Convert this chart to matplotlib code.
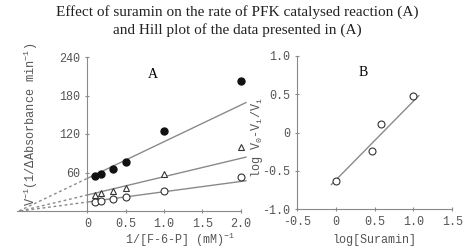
import numpy as np
import matplotlib
matplotlib.use("Agg")
import matplotlib.pyplot as plt

plt.rcParams['mathtext.default'] = 'regular'

# panel A: Lineweaver-Burk data, three suramin levels
inv_s = [0.1, 0.17, 0.33, 0.5, 1.0, 2.0]
inv_v_high = [54, 58, 66, 77, 124, 202]
inv_v_mid = [25, 28, 31, 36, 57, 100]
inv_v_low = [14, 16, 19, 22, 31, 53]
# fitted lines (intercept, slope)
fit_high = (51, 57)
fit_mid = (25, 28.5)
fit_low = (14, 16)

# panel B: Hill plot
log_sur = [0.0, 0.47, 0.58, 0.99]
log_ratio = [-0.64, -0.24, 0.11, 0.48]
hill_fit = (-0.62, 1.03)

mono = 'Liberation Mono'
serif = 'Liberation Serif'
grey = '#555555'
lgrey = '#8a8a8a'

fig = plt.figure(figsize=(4.74, 2.5), dpi=100)
fig.text(0.5, 0.952, "Effect of suramin on the rate of PFK catalysed reaction (A)",
         ha='center', va='center', family=serif, fontsize=11, color='#222222')
fig.text(0.5, 0.88, "and Hill plot of the data presented in (A)",
         ha='center', va='center', family=serif, fontsize=11, color='#222222')

# ---- panel A
ax = fig.add_axes([0.036, 0.156, 0.491, 0.616])
ax.set_xlim(-0.92, 2.12)
ax.set_ylim(0, 240)
for sp in ['top', 'right']:
    ax.spines[sp].set_visible(False)
ax.spines['left'].set_position(('data', 0))
ax.spines['bottom'].set_bounds(-0.92, 2.0)
for sp in ['left', 'bottom']:
    ax.spines[sp].set_color(lgrey)

xs = np.array([0, 2.07])
for (b, m) in [fit_high, fit_mid, fit_low]:
    ax.plot(xs, b + m * xs, color=lgrey, lw=1)
    x0 = -b / m
    xd = np.array([x0, 0])
    ax.plot(xd, b + m * xd, color=lgrey, lw=1, ls=(0, (2, 2)))

ax.plot(inv_s, inv_v_high, 'o', color='#111111', ms=5)
ax.plot(inv_s, inv_v_mid, '^', mfc='white', mec='#333333', ms=5, mew=0.8)
ax.plot(inv_s, inv_v_low, 'o', mfc='white', mec='#333333', ms=5, mew=0.8)

ax.set_xticks([0, 0.5, 1.0, 1.5, 2.0])
ax.set_xticklabels(['0', '0.5', '1.0', '1.5', '2.0'])
ax.set_yticks([60, 120, 180, 240])
ax.tick_params(direction='inout', length=3, width=0.8, color=lgrey,
               labelsize=8.5, labelcolor=grey)
for lab in ax.get_xticklabels() + ax.get_yticklabels():
    lab.set_family(mono)
ax.set_xlabel("1/[F-6-P] (mM)$^{-1}$", family=mono, fontsize=8.5, color=grey)
ax.xaxis.set_label_coords(0.70, -0.13)
ax.set_ylabel("V$^{-1}$(1/\u0394Absorbance min$^{-1}$)", family=mono,
              fontsize=8.6, color=grey)
ax.yaxis.set_label_coords(0.10, 0.56)
ax.text(0.86, 212, "A", family=serif, fontsize=10, ha='center', va='center')

# ---- panel B
bx = fig.add_axes([0.627, 0.164, 0.327, 0.612])
bx.set_xlim(-0.5, 1.5)
bx.set_ylim(-1.0, 1.0)
for sp in ['top', 'right']:
    bx.spines[sp].set_visible(False)
for sp in ['left', 'bottom']:
    bx.spines[sp].set_color(lgrey)
lx = np.array([-0.06, 1.07])
bx.plot(lx, hill_fit[0] + hill_fit[1] * lx, color=lgrey, lw=1)
bx.plot(log_sur, log_ratio, 'o', mfc='white', mec='#333333', ms=5, mew=0.8)
bx.set_xticks([-0.5, 0, 0.5, 1.0, 1.5])
bx.set_xticklabels(['-0.5', '0', '0.5', '1.0', '1.5'])
bx.set_yticks([-1.0, -0.5, 0, 0.5, 1.0])
bx.set_yticklabels(['-1.0', '-0.5', '0', '0.5', '1.0'])
bx.tick_params(direction='inout', length=3, width=0.8, color=lgrey,
               labelsize=8.5, labelcolor=grey)
for lab in bx.get_xticklabels() + bx.get_yticklabels():
    lab.set_family(mono)
bx.set_xlabel("log[Suramin]", family=mono, fontsize=8.5, color=grey)
bx.set_ylabel("log V$_0$-V$_i$/V$_i$", family=mono, fontsize=8.5, color=grey)
bx.yaxis.set_label_coords(-0.21, 0.47)
bx.text(0.35, 0.78, "B", family=serif, fontsize=10, ha='center', va='center')

fig.savefig("out.png", dpi=100)
